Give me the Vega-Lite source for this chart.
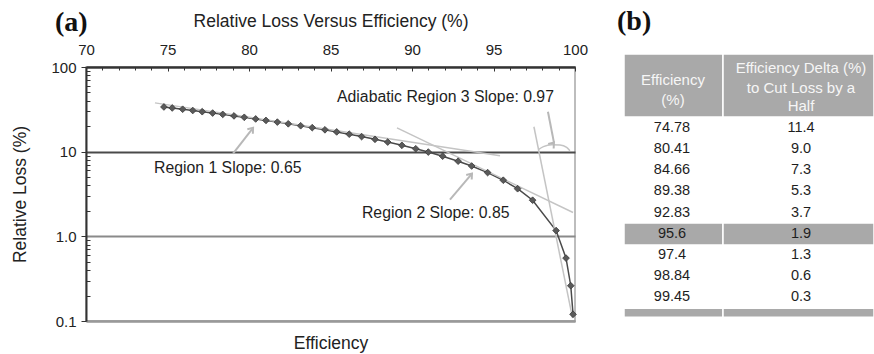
{
  "$schema": "https://vega.github.io/schema/vega-lite/v6.json",
  "autosize": {"type": "none"},
  "padding": {"left": 86, "top": 67, "right": 299, "bottom": 33},
  "width": 489,
  "height": 254,
  "view": {"stroke": "#a8a8a8", "strokeWidth": 1.5},
  "config": {
    "font": "Liberation Sans",
    "axis": {"labelColor": "#222", "titleColor": "#222", "labelFontSize": 15, "titleFontSize": 17.5, "titleFontWeight": "normal", "tickColor": "#333", "domainColor": "#333", "labelFont": "Liberation Sans", "titleFont": "Liberation Sans"},
    "text": {"font": "Liberation Sans"}
  },
  "datasets": {
    "curve": [
      {"eff": 74.78, "loss": 33.73}, {"eff": 75.29, "loss": 32.82}, {"eff": 75.93, "loss": 31.70},
      {"eff": 76.55, "loss": 30.63}, {"eff": 77.13, "loss": 29.65}, {"eff": 77.77, "loss": 28.58},
      {"eff": 78.39, "loss": 27.57}, {"eff": 79.08, "loss": 26.45}, {"eff": 79.71, "loss": 25.46},
      {"eff": 80.41, "loss": 24.36}, {"eff": 81.04, "loss": 23.40}, {"eff": 81.74, "loss": 22.34},
      {"eff": 82.41, "loss": 21.34}, {"eff": 83.17, "loss": 20.24}, {"eff": 83.88, "loss": 19.22},
      {"eff": 84.66, "loss": 18.12}, {"eff": 85.38, "loss": 17.12}, {"eff": 86.15, "loss": 16.08},
      {"eff": 86.91, "loss": 15.06}, {"eff": 87.73, "loss": 13.99}, {"eff": 88.51, "loss": 12.98},
      {"eff": 89.38, "loss": 11.88}, {"eff": 90.23, "loss": 10.83}, {"eff": 91.00, "loss": 9.89},
      {"eff": 91.88, "loss": 8.84}, {"eff": 92.83, "loss": 7.72}, {"eff": 93.66, "loss": 6.77},
      {"eff": 94.64, "loss": 5.66}, {"eff": 95.60, "loss": 4.60}, {"eff": 96.48, "loss": 3.65},
      {"eff": 97.40, "loss": 2.67}, {"eff": 98.84, "loss": 1.17}, {"eff": 99.45, "loss": 0.553},
      {"eff": 99.74, "loss": 0.261}, {"eff": 99.88, "loss": 0.120}
    ],
    "tangents": [
      {"seg": "r1", "eff": 74.23, "loss": 37.7}, {"seg": "r1", "eff": 95.40, "loss": 8.97},
      {"seg": "r2", "eff": 89.08, "loss": 19.1}, {"seg": "r2", "eff": 99.88, "loss": 1.91},
      {"seg": "r3", "eff": 97.48, "loss": 19.7}, {"seg": "r3", "eff": 99.85, "loss": 0.108}
    ],
    "arc": [
      {"eff": 97.75, "loss": 10.56}, {"eff": 98.06, "loss": 11.45}, {"eff": 98.57, "loss": 12.09},
      {"eff": 99.08, "loss": 11.99}, {"eff": 99.49, "loss": 11.24}, {"eff": 99.69, "loss": 10.27}
    ],
    "arrows": [
      {"id": "r1", "eff": 79.02, "loss": 9.47, "eff2": 80.25, "loss2": 19.1},
      {"id": "r2", "eff": 92.33, "loss": 2.72, "eff2": 93.68, "loss2": 5.51},
      {"id": "r3", "eff": 98.34, "loss": 29.6, "eff2": 98.71, "loss2": 12.8}
    ],
    "notes": [
      {"text": "Adiabatic Region 3 Slope: 0.97", "eff": 85.40, "loss": 44.4},
      {"text": "Region 1 Slope: 0.65", "eff": 74.17, "loss": 6.49},
      {"text": "Region 2 Slope: 0.85", "eff": 86.93, "loss": 1.87}
    ],
    "table": [
      {"row": 0, "eff": "74.78", "delta": "11.4"},
      {"row": 1, "eff": "80.41", "delta": "9.0"},
      {"row": 2, "eff": "84.66", "delta": "7.3"},
      {"row": 3, "eff": "89.38", "delta": "5.3"},
      {"row": 4, "eff": "92.83", "delta": "3.7"},
      {"row": 5, "eff": "95.6", "delta": "1.9"},
      {"row": 6, "eff": "97.4", "delta": "1.3"},
      {"row": 7, "eff": "98.84", "delta": "0.6"},
      {"row": 8, "eff": "99.45", "delta": "0.3"}
    ],
    "cells": [
      {"c0": 0, "c1": 0.99, "r0": -3.5, "r1": -0.52},
      {"c0": 0.99, "c1": 2.5, "r0": -3.5, "r1": -0.52},
      {"c0": 0, "c1": 0.99, "r0": 4.5, "r1": 5.54},
      {"c0": 0.99, "c1": 2.5, "r0": 4.5, "r1": 5.54},
      {"c0": 0, "c1": 0.99, "r0": 8.53, "r1": 8.96},
      {"c0": 0.99, "c1": 2.5, "r0": 8.53, "r1": 8.96}
    ],
    "header": [
      {"t": "Efficiency", "c": 0.49, "r": -2.27},
      {"t": "(%)", "c": 0.49, "r": -1.33},
      {"t": "Efficiency Delta (%)", "c": 1.77, "r": -2.84},
      {"t": "to Cut Loss by a", "c": 1.77, "r": -1.89},
      {"t": "Half", "c": 1.77, "r": -1.04}
    ]
  },
  "resolve": {"scale": {"x": "independent", "y": "independent"}, "axis": {"x": "independent", "y": "independent"}},
  "layer": [
    {
      "resolve": {"axis": {"x": "independent", "y": "independent"}},
      "layer": [
        {
          "data": {"name": "curve"},
          "mark": {"type": "line", "color": "#4a4a4a", "strokeWidth": 1.5},
          "encoding": {
            "x": {"field": "eff", "type": "quantitative", "scale": {"domain": [70, 100], "nice": false, "zero": false},
              "axis": {"orient": "top", "title": "Relative Loss Versus Efficiency (%)", "values": [70, 75, 80, 85, 90, 95, 100], "tickSize": -4, "labelPadding": 14, "titlePadding": 12, "domainWidth": 2, "grid": false, "labelFlush": false, "labelOverlap": false}},
            "y": {"field": "loss", "type": "quantitative", "scale": {"type": "log", "domain": [0.1, 100], "nice": false},
              "axis": {"orient": "left", "title": "Relative Loss (%)", "values": [0.1, 1, 10, 100], "labelExpr": "datum.value >= 10 ? format(datum.value, 'd') : format(datum.value, '.1f')", "tickSize": 5, "labelPadding": 5, "titlePadding": 21, "domainWidth": 2, "grid": true, "gridWidth": 2, "gridOpacity": 1, "gridColor": {"condition": {"test": "datum.value < 5", "value": "#8a8a8a"}, "value": "#4a4a4a"}, "labelFlush": false, "labelOverlap": false}}
          }
        },
        {
          "data": {"name": "tangents"},
          "mark": {"type": "line", "color": "#c4c4c4", "strokeWidth": 1.5},
          "encoding": {
            "detail": {"field": "seg"},
            "x": {"field": "eff", "type": "quantitative", "scale": {"domain": [70, 100], "nice": false, "zero": false},
              "axis": {"orient": "top", "title": null, "values": [71, 72, 73, 74, 76, 77, 78, 79, 81, 82, 83, 84, 86, 87, 88, 89, 91, 92, 93, 94, 96, 97, 98, 99], "labels": false, "tickSize": -3, "domain": false, "grid": false}},
            "y": {"field": "loss", "type": "quantitative", "scale": {"type": "log", "domain": [0.1, 100], "nice": false},
              "axis": {"orient": "left", "title": null, "values": [0.2, 0.3, 0.4, 0.5, 0.6, 0.7, 0.8, 0.9, 2, 3, 4, 5, 6, 7, 8, 9, 20, 30, 40, 50, 60, 70, 80, 90], "labels": false, "tickSize": -4, "domain": false, "grid": false}}
          }
        },
        {
          "data": {"name": "arc"},
          "mark": {"type": "line", "color": "#c4c4c4", "strokeWidth": 1.5, "interpolate": "monotone"},
          "encoding": {
            "x": {"field": "eff", "type": "quantitative", "scale": {"domain": [70, 100], "nice": false, "zero": false}, "axis": null},
            "y": {"field": "loss", "type": "quantitative", "scale": {"type": "log", "domain": [0.1, 100], "nice": false}, "axis": null}
          }
        },
        {
          "data": {"name": "curve"},
          "mark": {"type": "point", "shape": "diamond", "filled": true, "size": 45, "color": "#5a5a5a", "stroke": "#3a3a3a", "strokeWidth": 0.8, "opacity": 1},
          "encoding": {
            "x": {"field": "eff", "type": "quantitative", "scale": {"domain": [70, 100], "nice": false, "zero": false},
              "axis": {"orient": "bottom", "title": "Efficiency", "labels": false, "ticks": false, "domainColor": "#999999", "domainWidth": 2, "grid": false, "titlePadding": 13}},
            "y": {"field": "loss", "type": "quantitative", "scale": {"type": "log", "domain": [0.1, 100], "nice": false}, "axis": null}
          }
        },
        {
          "data": {"name": "arrows"},
          "mark": {"type": "rule", "color": "#b8b8b8", "strokeWidth": 2},
          "encoding": {
            "x": {"field": "eff", "type": "quantitative", "scale": {"domain": [70, 100], "nice": false, "zero": false}, "axis": null},
            "y": {"field": "loss", "type": "quantitative", "scale": {"type": "log", "domain": [0.1, 100], "nice": false}, "axis": null},
            "x2": {"field": "eff2"},
            "y2": {"field": "loss2"}
          }
        },
        {
          "data": {"name": "arrows"},
          "mark": {"type": "point", "shape": "M-1,-0.75L0,0L-1,0.75", "filled": false, "size": 90, "color": "#b8b8b8", "strokeWidth": 2, "opacity": 1},
          "encoding": {
            "x": {"field": "eff2", "type": "quantitative", "scale": {"domain": [70, 100], "nice": false, "zero": false}, "axis": null},
            "y": {"field": "loss2", "type": "quantitative", "scale": {"type": "log", "domain": [0.1, 100], "nice": false}, "axis": null},
            "angle": {"field": "id", "type": "nominal", "scale": {"domain": ["r1", "r2", "r3"], "range": [309, 310, 79]}, "legend": null}
          }
        },
        {
          "data": {"name": "notes"},
          "mark": {"type": "text", "align": "left", "baseline": "middle", "fontSize": 15.8, "color": "#1e1e1e"},
          "encoding": {
            "x": {"field": "eff", "type": "quantitative", "scale": {"domain": [70, 100], "nice": false, "zero": false}, "axis": null},
            "y": {"field": "loss", "type": "quantitative", "scale": {"type": "log", "domain": [0.1, 100], "nice": false}, "axis": null},
            "text": {"field": "text"}
          }
        },
        {
          "data": {"values": [{"t": "(a)", "eff": 68.1, "loss": 330}]},
          "mark": {"type": "text", "align": "left", "baseline": "middle", "font": "Liberation Serif", "fontWeight": "bold", "fontSize": 28, "color": "#111111"},
          "encoding": {
            "x": {"field": "eff", "type": "quantitative", "scale": {"domain": [70, 100], "nice": false, "zero": false}, "axis": null},
            "y": {"field": "loss", "type": "quantitative", "scale": {"type": "log", "domain": [0.1, 100], "nice": false}, "axis": null},
            "text": {"field": "t"}
          }
        }
      ]
    },
    {
      "layer": [
        {
          "data": {"name": "cells"},
          "mark": {"type": "rect", "fill": "#a9a9a9", "stroke": "#ffffff", "strokeWidth": 1.5},
          "encoding": {
            "x": {"field": "c0", "type": "quantitative", "scale": {"domain": [-5.38, -0.49], "nice": false, "zero": false}, "axis": null},
            "x2": {"field": "c1"},
            "y": {"field": "r0", "type": "quantitative", "scale": {"domain": [-2.888, 9.136], "reverse": true, "nice": false, "zero": false}, "axis": null},
            "y2": {"field": "r1"}
          }
        },
        {
          "data": {"name": "header"},
          "mark": {"type": "text", "align": "center", "baseline": "middle", "fontSize": 15, "color": "#f6f6f6"},
          "encoding": {
            "x": {"field": "c", "type": "quantitative", "axis": null},
            "y": {"field": "r", "type": "quantitative", "axis": null},
            "text": {"field": "t"}
          }
        },
        {
          "data": {"name": "table"},
          "mark": {"type": "text", "align": "center", "baseline": "middle", "fontSize": 14.5, "color": "#1e1e1e"},
          "encoding": {
            "x": {"datum": 0.48, "type": "quantitative", "axis": null},
            "y": {"field": "row", "type": "quantitative", "axis": null},
            "text": {"field": "eff"}
          }
        },
        {
          "data": {"name": "table"},
          "mark": {"type": "text", "align": "center", "baseline": "middle", "fontSize": 14.5, "color": "#1e1e1e"},
          "encoding": {
            "x": {"datum": 1.77, "type": "quantitative", "axis": null},
            "y": {"field": "row", "type": "quantitative", "axis": null},
            "text": {"field": "delta"}
          }
        },
        {
          "data": {"values": [{"t": "(b)", "c": -0.07, "r": -5.02}]},
          "mark": {"type": "text", "align": "left", "baseline": "middle", "font": "Liberation Serif", "fontWeight": "bold", "fontSize": 28, "color": "#111111"},
          "encoding": {
            "x": {"field": "c", "type": "quantitative", "axis": null},
            "y": {"field": "r", "type": "quantitative", "axis": null},
            "text": {"field": "t"}
          }
        }
      ]
    }
  ]
}
